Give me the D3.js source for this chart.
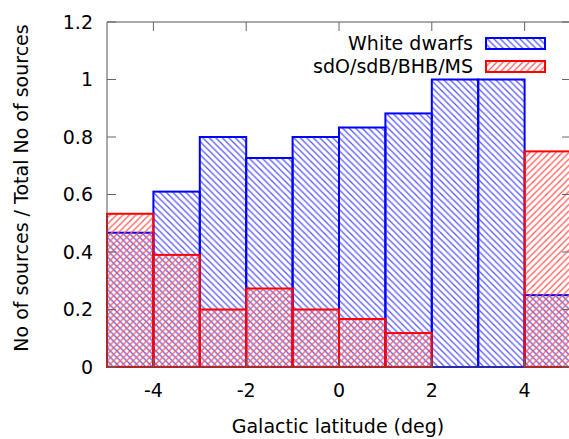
<!DOCTYPE html>
<html><head><meta charset="utf-8">
<script src="https://cdn.jsdelivr.net/npm/d3@7"></script>
<style>body{margin:0;background:#fff}svg{display:block}text{font-family:"DejaVu Sans",sans-serif;fill:#000}</style>
</head><body>
<svg id="c" width="569" height="439"></svg>
<script>
const binStarts = [-5,-4,-3,-2,-1,0,1,2,3,4];
const whiteDwarfs = [0.467,0.61,0.8,0.727,0.8,0.833,0.882,1.0,1.0,0.25];
const sdOsdB = [0.533,0.39,0.2,0.273,0.2,0.167,0.118,0,0,0.75];
const xTicks = [-4,-2,0,2,4];
const yTicks = [0,0.2,0.4,0.6,0.8,1,1.2];
const seriesNames = ["White dwarfs","sdO/sdB/BHB/MS"];

const svg = d3.select("#c");
const L=107,R=571,T=22,B=367;
const FS=19;
const x = d3.scaleLinear().domain([-5,5]).range([L,R]);
const y = d3.scaleLinear().domain([0,1.2]).range([B,T]);

const defs = svg.append("defs");
function pat(id,color,dir){
  const s=6.5;
  const p = defs.append("pattern").attr("id",id).attr("patternUnits","userSpaceOnUse")
    .attr("width",s).attr("height",s);
  const d = dir>0
    ? `M-1,${s+1} L${s+1},-1 M-1,1 L1,-1 M${s-1},${s+1} L${s+1},${s-1}`
    : `M-1,-1 L${s+1},${s+1} M-1,${s-1} L1,${s+1} M${s-1},-1 L${s+1},1`;
  p.append("path").attr("d",d).attr("stroke",color).attr("stroke-width",1.3).attr("fill","none");
}
pat("pb","#5a5aff",-1);
pat("pr","#ff5a5a",1);

function drawBars(vals,fillId,stroke){
  svg.append("g").selectAll("rect").data(binStarts.map((s,i)=>({s,v:vals[i]})).filter(d=>d.v>0))
    .join("rect")
    .attr("x",d=>x(d.s)).attr("width",d=>x(d.s+1)-x(d.s))
    .attr("y",d=>y(d.v)).attr("height",d=>y(0)-y(d.v))
    .attr("fill","url(#"+fillId+")").attr("stroke",stroke).attr("stroke-width",2);
}
drawBars(whiteDwarfs,"pb","#0000ff");
drawBars(sdOsdB,"pr","#ff0000");

svg.append("path").attr("d",`M${R},${T} L${L},${T} L${L},${B} L${R},${B}`)
  .attr("fill","none").attr("stroke","#555").attr("stroke-width",1);

const ax = svg.append("g").attr("stroke","#666").attr("stroke-width",1);
yTicks.forEach(t=>{
  ax.append("line").attr("x1",L).attr("x2",L+9).attr("y1",y(t)).attr("y2",y(t));
  ax.append("line").attr("x1",R-9).attr("x2",R).attr("y1",y(t)).attr("y2",y(t));
});
xTicks.forEach(t=>{
  ax.append("line").attr("x1",x(t)).attr("x2",x(t)).attr("y1",T).attr("y2",T+9);
  ax.append("line").attr("x1",x(t)).attr("x2",x(t)).attr("y1",B).attr("y2",B-9);
});
svg.append("g").selectAll("text").data(yTicks).join("text")
  .attr("x",L-14).attr("y",d=>y(d)).attr("dy","0.35em").attr("text-anchor","end")
  .attr("font-size",FS).text(d=>d3.format("")(d));
svg.append("g").selectAll("text").data(xTicks).join("text")
  .attr("x",d=>x(d)).attr("y",B+30).attr("text-anchor","middle")
  .attr("font-size",FS).text(d=>d);

svg.append("text").attr("x",338).attr("y",433).attr("text-anchor","middle")
  .attr("font-size",FS).text("Galactic latitude (deg)");
svg.append("text").attr("transform","translate(28,188) rotate(-90)").attr("text-anchor","middle")
  .attr("font-size",FS).text("No of sources / Total No of sources");

const leg = [{n:seriesNames[0],f:"pb",s:"#0000ff",yy:43},{n:seriesNames[1],f:"pr",s:"#ff0000",yy:66}];
leg.forEach(d=>{
  svg.append("text").attr("x",473).attr("y",d.yy).attr("dy","0.35em").attr("text-anchor","end")
    .attr("font-size",FS).text(d.n);
  svg.append("rect").attr("x",486).attr("y",d.yy-5).attr("width",59).attr("height",11)
    .attr("fill","url(#"+d.f+")").attr("stroke",d.s).attr("stroke-width",2);
});
</script>
</body></html>
